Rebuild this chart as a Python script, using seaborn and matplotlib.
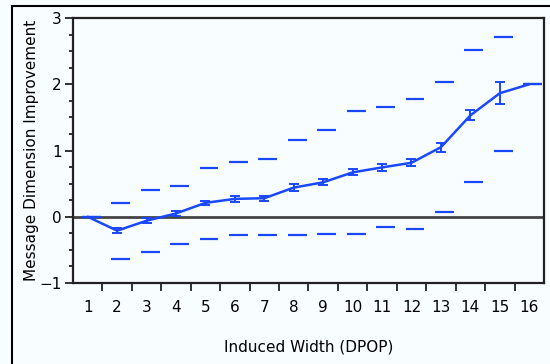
import numpy as np
import pandas as pd
import matplotlib
matplotlib.use("Agg")
import matplotlib.pyplot as plt
import seaborn as sns
from matplotlib.patches import Rectangle

# induced width categories and per-category statistics
widths = list(range(1, 17))
mean_impr = [0.0, -0.21, -0.06, 0.05, 0.21, 0.27, 0.28, 0.44, 0.52, 0.67, 0.745, 0.815, 1.05, 1.53, 1.865, 2.0]
err_impr = [0.0, 0.04, 0.04, 0.035, 0.03, 0.045, 0.035, 0.05, 0.045, 0.045, 0.055, 0.055, 0.07, 0.075, 0.165, 0.0]
max_impr = [0.0, 0.21, 0.41, 0.47, 0.74, 0.82, 0.87, 1.16, 1.31, 1.60, 1.65, 1.78, 2.03, 2.51, 2.72, 2.0]
min_impr = [0.0, -0.64, -0.53, -0.41, -0.33, -0.28, -0.28, -0.28, -0.26, -0.26, -0.15, -0.19, 0.075, 0.53, 1.0, 2.0]

df = pd.DataFrame({"width": widths, "mean": mean_impr, "err": err_impr,
                   "max": max_impr, "min": min_impr})

bg = "#f8fdff"
blue = "#1a48ff"

sns.set_style("ticks")
plt.rcParams["font.family"] = ["DejaVu Sans"]
plt.rcParams["text.color"] = "black"
plt.rcParams["axes.labelcolor"] = "black"

fig = plt.figure(figsize=(5.5, 3.64), dpi=100, facecolor=bg)
ax = fig.add_axes([0.1327, 0.2225, 0.8563, 0.728])
ax.set_facecolor(bg)

ax.axhline(0, color="#444444", lw=2, zorder=1)

sns.lineplot(data=df, x="width", y="mean", color=blue, lw=1.8, ax=ax, zorder=3)
ax.errorbar(df["width"], df["mean"], yerr=df["err"], fmt="none", ecolor=blue,
            elinewidth=1.4, capsize=3.8, capthick=1.4, zorder=3)

# min / max dashes
dash_x = df["width"] + 0.12
ax.hlines(df["max"], dash_x - 0.32, dash_x + 0.32, color=blue, lw=1.6, zorder=2)
ax.hlines(df["min"], dash_x - 0.32, dash_x + 0.32, color=blue, lw=1.6, zorder=2)

ax.set_xlim(0.5, 16.5)
ax.set_ylim(-1, 3)
ax.set_xticks(widths)
ax.set_xticklabels([str(w) for w in widths])
ax.set_xticks(np.arange(1.5, 16, 1), minor=True)
ax.tick_params(axis="x", which="major", length=0, pad=12, labelsize=11, labelcolor="black")
ax.tick_params(axis="x", which="minor", length=5.5, width=1.3, color="#222222")
ax.set_yticks([-1, 0, 1, 2, 3])
ax.set_yticklabels(["\u22121", "0", "1", "2", "3"])
ax.set_yticks(np.arange(-1, 3.01, 0.25), minor=True)
ax.tick_params(axis="y", which="major", length=6, width=1.3, labelsize=11, pad=2,
               color="#222222", labelcolor="black")
ax.tick_params(axis="y", which="minor", length=3, width=1.3, color="#222222")

for s in ax.spines.values():
    s.set_linewidth(1.6)
    s.set_color("#222222")

ax.set_xlabel("Induced Width (DPOP)", fontsize=11, labelpad=18)
ax.set_ylabel("Message Dimension Improvement", fontsize=11, labelpad=0.5)

fig.patches.append(Rectangle((12 / 550, -0.2), 1.2, 1.2 - 6 / 364, transform=fig.transFigure,
                             fill=False, lw=1.5, edgecolor="black", clip_on=False))

fig.savefig("out.png", dpi=100, facecolor=bg)
